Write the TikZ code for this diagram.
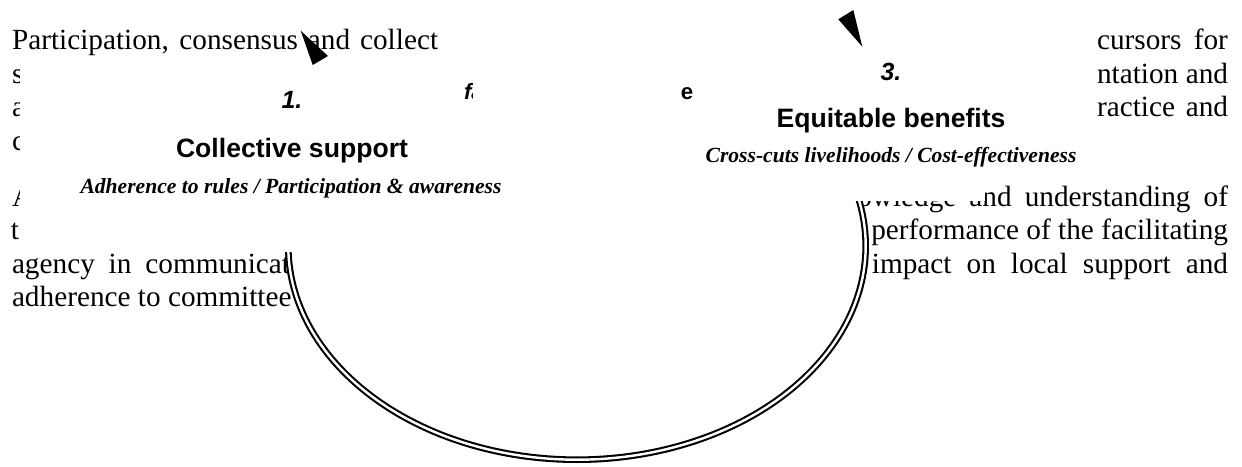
\documentclass[tikz,border=0pt]{standalone}
\usepackage{fontspec}
\setmainfont{Liberation Serif}
\newfontfamily\arialfont{Liberation Sans}
\usetikzlibrary{positioning}

\newcommand\bodyfont{\fontsize{12}{14}\selectfont}
\newcommand\titlefont{\arialfont\bfseries\fontsize{10.9}{13}\selectfont}
\newcommand\numfont{\arialfont\bfseries\itshape\fontsize{10.2}{12}\selectfont}
\newcommand\fragfont{\arialfont\bfseries\itshape\fontsize{9.1}{11}\selectfont}
\newcommand\subfont{\bfseries\itshape\fontsize{8.85}{10.5}\selectfont}

\begin{document}
\begin{tikzpicture}[x=0.41pt, y=-0.41pt,
        every node/.style={inner sep=0pt, outer sep=0pt},
        bodyl/.style={font=\bodyfont, anchor=base west},
        bodyr/.style={font=\bodyfont, anchor=base east},
        cover/.style={fill=white, draw=none},
        cycleline/.style={fill=white, draw=black, double=white,
                line width=0.85pt, double distance=1pt},
        numtxt/.style={font=\numfont, anchor=base},
        titletxt/.style={font=\titlefont, anchor=base},
        subtxt/.style={font=\subfont, anchor=base},
        tip/.style={fill=black}
        ]
        \useasboundingbox[fill=white] (0,0) rectangle (1242,466);

        % ---------------- Body text ----------------
        \node[bodyl] (p1l) at (12,49)    {\makebox[174.7pt][s]{Participation, consensus and collect}};
        \node[bodyr] (p1r) at (1228,49)  {\makebox[53.7pt][s]{cursors for}};
        \node[bodyl] (p2l) at (12,83)    {s};
        \node[bodyr] (p2r) at (1228,83)  {\makebox[53.7pt][s]{ntation and}};
        \node[bodyl] (p3l) at (12,116.6) {a};
        \node[bodyr] (p3r) at (1228,116.6) {\makebox[53.7pt][s]{ractice and}};
        \node[bodyl] (p4l) at (12,150.2) {c};
        \node[bodyl] (p5l) at (12,206)   {A};
        \node[bodyr] (p5r) at (1228,206) {\makebox[152pt][s]{owledge and understanding of}};
        \node[bodyl] (p6l) at (11,239.6) {t};
        \node[bodyr] (p6r) at (1228,239.6) {performance of the facilitating};
        \node[bodyl] (p7l) at (12,273.2) {\makebox[114pt][s]{agency in communicat}};
        \node[bodyr] (p7r) at (1228,273.2) {\makebox[146pt][s]{impact on local support and}};
        \node[bodyl] (p8l) at (12,306.8) {adherence to committee};

        % ---------------- Cycle ----------------
        \draw[cycleline] (577,246) ++(185:288.7 and 213.7)
                arc [start angle=185, end angle=-15, x radius=288.7, y radius=213.7];

        % ---------------- Text boxes ----------------
        \fill[cover] (438,15) rectangle (1095,170);
        \fill[cover] (19.5,60) rectangle (600,252);
        \fill[cover] (600,60) rectangle (985,201);

        \node[numtxt]   (num1)   at (292,108) {1.};
        \node[titletxt] (title1) at (292,157) {Collective support};
        \node[subtxt]   (sub1)   at (291,193) {Adherence to rules / Participation \& awareness};

        \begin{scope}
          \clip (440,70) rectangle (472.5,110) (660,70) rectangle (720,110);
          \node[font=\fragfont, anchor=base west] (frag2a) at (464,99) {fa};
          \node[font=\arialfont\bfseries\fontsize{9.1}{11}\selectfont, anchor=base] (frag2b) at (687,99) {e};
        \end{scope}

        \node[numtxt]   (num3)   at (891,80)  {3.};
        \node[titletxt] (title3) at (891,127) {Equitable benefits};
        \node[subtxt]   (sub3)   at (891,162) {Cross-cuts livelihoods / Cost-effectiveness};

        % ---------------- Arrow tips ----------------
        \fill[tip] (300.7,30.7) -- (328,56) -- (312.7,65) -- cycle;
        \fill[tip] (838.3,19.3) -- (853.3,10) -- (862.3,46.7) -- cycle;

    \end{tikzpicture}
\end{document}
